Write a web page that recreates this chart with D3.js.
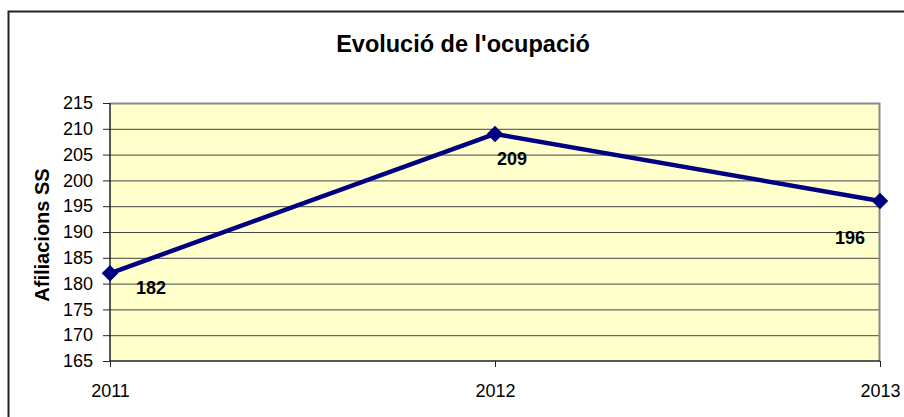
<!DOCTYPE html>
<html>
<head>
<meta charset="utf-8">
<script src="https://cdn.jsdelivr.net/npm/d3@7"></script>
<style>
  body { margin: 0; background: #fff; }
  svg { display: block; font-family: "Liberation Sans", Arial, sans-serif; }
</style>
</head>
<body>
<svg></svg>
<script>
let years = ["2011", "2012", "2013"];
let values = [182, 209, 196];
let yTicks = [165, 170, 175, 180, 185, 190, 195, 200, 205, 210, 215];

// where Excel put each data label, relative to its point
let labelOffsets = [[26, 21], [2, 31], [-45, 43]];

let width = 904, height = 417;
let plot = {left: 110, right: 880, top: 103, bottom: 361};

let svg = d3.select("svg")
    .attr("width", width)
    .attr("height", height);

// outer chart border (runs off the right/bottom of the picture)
svg.append("rect")
    .attr("x", 8.5).attr("y", 11.5)
    .attr("width", 1000).attr("height", 1000)
    .attr("fill", "none")
    .attr("stroke", "#222")
    .attr("stroke-width", 2);

let x = d3.scalePoint()
    .domain(years)
    .range([plot.left, plot.right]);

let y = d3.scaleLinear()
    .domain([165, 215])
    .range([plot.bottom, plot.top]);

svg.append("rect")
    .attr("x", plot.left).attr("y", plot.top)
    .attr("width", plot.right - plot.left)
    .attr("height", plot.bottom - plot.top)
    .attr("fill", "#FFFFCC");

// gridlines
svg.append("g")
  .selectAll("line")
  .data(yTicks.slice(1, -1))
  .enter().append("line")
    .attr("x1", plot.left).attr("x2", plot.right)
    .attr("y1", d => y(d) + 0.5).attr("y2", d => y(d) + 0.5)
    .attr("stroke", "#444")
    .attr("stroke-width", 1);

// top and right border of plot area
svg.append("path")
    .attr("d", `M${plot.left},${plot.top + 0.5}H${plot.right - 0.5}V${plot.bottom}`)
    .attr("fill", "none")
    .attr("stroke", "#888")
    .attr("stroke-width", 2);

let yAxis = svg.append("g")
    .attr("transform", `translate(${plot.left},0)`)
    .call(d3.axisLeft(y).tickValues(yTicks).tickSize(7).tickPadding(10));

let xAxis = svg.append("g")
    .attr("transform", `translate(0,${plot.bottom})`)
    .call(d3.axisBottom(x).tickSize(6).tickPadding(17));

[yAxis, xAxis].forEach(g => {
  g.select(".domain").attr("stroke", "#222").attr("stroke-width", 1.5);
  g.selectAll(".tick line").attr("stroke", "#222");
  g.selectAll("text")
      .attr("fill", "#000")
      .style("font-size", "18px")
      .style("font-family", "'Liberation Sans', Arial, sans-serif");
});
xAxis.select(".domain").attr("d", `M${plot.left},0H${plot.right}`);
yAxis.select(".domain").attr("d", `M0,${plot.top}V${plot.bottom}`);

let points = years.map((yr, i) => ({year: yr, value: values[i], off: labelOffsets[i]}));

svg.append("path")
    .datum(points)
    .attr("fill", "none")
    .attr("stroke", "#000080")
    .attr("stroke-width", 4.5)
    .attr("stroke-linejoin", "round")
    .attr("d", d3.line().x(d => x(d.year)).y(d => y(d.value)));

svg.selectAll(".marker")
    .data(points)
  .enter().append("path")
    .attr("class", "marker")
    .attr("transform", d => `translate(${x(d.year)},${y(d.value)})`)
    .attr("d", d3.symbol().type(d3.symbolDiamond2).size(175))
    .attr("fill", "#000080");

svg.selectAll(".label")
    .data(points)
  .enter().append("text")
    .attr("class", "label")
    .attr("x", d => x(d.year) + d.off[0])
    .attr("y", d => y(d.value) + d.off[1])
    .style("font-size", "18px")
    .style("font-weight", "bold")
    .text(d => d.value);

svg.append("text")
    .attr("x", 463)
    .attr("y", 52)
    .attr("text-anchor", "middle")
    .style("font-size", "23.5px")
    .style("font-weight", "bold")
    .text("Evolució de l'ocupació");

svg.append("text")
    .attr("transform", `translate(49,${(plot.top + plot.bottom) / 2 + 3}) rotate(-90)`)
    .attr("text-anchor", "middle")
    .style("font-size", "20px")
    .style("font-weight", "bold")
    .text("Afiliacions SS");
</script>
</body>
</html>
